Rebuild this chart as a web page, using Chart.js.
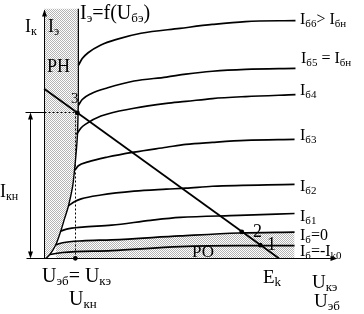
<!DOCTYPE html>
<html>
<head>
<meta charset="utf-8">
<script src="https://cdn.jsdelivr.net/npm/chart.js@4/dist/chart.umd.min.js"></script>
<style>html,body{margin:0;padding:0;background:#fff}canvas{display:block}</style>
</head>
<body>
<canvas id="c" width="364" height="314"></canvas>
<script>
// values: U in volts (Ek = 10), I in mA
const EK = 10;
const IK_AT_ZERO = 6.96;      // load line meets the I axis
const IKN = 6.0;              // saturation current
const UKN = 1.33;             // saturation voltage

// emitter curve Iэ=f(Uбэ), bottom to top
const iEmit = [[0.08,0],[0.25,0.16],[0.5,0.56],[0.71,1.12],[0.875,1.64],[1.04,2.16],
  [1.21,2.92],[1.29,3.56],[1.375,4.44],[1.42,5.04],[1.44,5.64],[1.46,6.44]];
const emitTop = 10.24;

// collector curves for each base current
const ib6 = [[1.46,7.92],[1.625,8.2],[1.875,8.44],[2.42,8.76],[3.125,9.0],[4.125,9.24],[5.79,9.44],[7.17,9.6],[8.58,9.72],[10.71,9.76]];
const ib5 = [[1.46,6.28],[1.625,6.52],[2.0,6.76],[2.71,7.0],[3.83,7.28],[5.21,7.44],[6.04,7.56],[7.17,7.68],[8.58,7.76],[10.71,7.8]];
const ib4 = [[1.375,5.08],[1.58,5.36],[1.79,5.52],[2.42,5.84],[3.83,6.16],[5.21,6.36],[6.04,6.44],[7.17,6.56],[8.58,6.64],[10.71,6.72]];
const ib3 = [[1.33,3.64],[1.46,3.8],[1.875,3.96],[2.71,4.16],[3.83,4.36],[5.21,4.56],[6.04,4.68],[7.17,4.76],[8.58,4.84],[10.67,4.88]];
const ib2 = [[1.04,2.16],[1.29,2.32],[1.58,2.44],[2.42,2.6],[3.83,2.76],[5.21,2.84],[6.04,2.88],[7.17,2.96],[10.67,3.04]];
const ib1 = [[0.71,1.12],[0.96,1.2],[1.625,1.28],[2.875,1.36],[4.54,1.56],[5.79,1.68],[8.29,1.76],[10.67,1.84]];
const ib0 = [[0.5,0.56],[0.79,0.64],[1.625,0.72],[2.875,0.76],[5.79,0.92],[8.29,1.04],[10.67,1.08]];
const ibK0 = [[0.25,0.16],[0.79,0.24],[2.875,0.32],[5.79,0.48],[8.29,0.52],[10.67,0.52]];

// working points 3, 2, 1 on the load line and Uкн on the axis
const dots = [[1.42,5.97],[8.42,1.09],[9.21,0.54],[UKN,0]];

const xy = a => a.map(p => ({x: p[0], y: p[1]}));

// stipple used for the shaded regions
const pc = document.createElement('canvas');
pc.width = 2; pc.height = 2;
const pctx = pc.getContext('2d');
pctx.fillStyle = '#fff'; pctx.fillRect(0, 0, 2, 2);
pctx.fillStyle = '#b4b4b4'; pctx.fillRect(0, 0, 1, 1); pctx.fillRect(1, 1, 1, 1);
const ctx = document.getElementById('c').getContext('2d');
const stipple = ctx.createPattern(pc, 'repeat');

const satShape = [[0, emitTop], [1.46, emitTop]].concat(iEmit.slice().reverse(), [[0, 0]]);

function curve(d) {
  return {data: xy(d), borderColor: '#000', borderWidth: 1.7, pointRadius: 0,
    cubicInterpolationMode: 'monotone', fill: false};
}

const cur0 = curve(ib0);
cur0.fill = 'origin';
cur0.backgroundColor = stipple;

const datasets = [
  {data: xy(dots), showLine: false, pointRadius: 2.4, pointBackgroundColor: '#000', pointBorderWidth: 0},
  {data: xy([[0, IK_AT_ZERO], [EK, 0]]), borderColor: '#000', borderWidth: 1.8, pointRadius: 0},
  curve(ib6), curve(ib5), curve(ib4), curve(ib3), curve(ib2), curve(ib1), cur0, curve(ibK0),
  {data: xy(iEmit), borderColor: '#000', borderWidth: 1.4, pointRadius: 0, tension: 0.3},
  {data: xy([[1.46, 6.44], [1.46, emitTop]]), borderColor: '#000', borderWidth: 1.2, pointRadius: 0},
  {data: xy(satShape), borderWidth: 0, pointRadius: 0, fill: 'shape', backgroundColor: stipple}
];

const labels = [
  {x: 25, y: 32, p: ['I', 'к']},
  {x: 48, y: 32, p: ['I', 'э']},
  {x: 80, y: 19, p: ['I', 'э', '=f(U', 'бэ', ')'], s: 20},
  {x: 47, y: 72, p: ['РН']},
  {x: 71, y: 103, p: ['3'], s: 15},
  {x: 0, y: 197, p: ['I', 'кн']},
  {x: 42, y: 282, p: ['U', 'эб', '= U', 'кэ'], s: 20},
  {x: 69, y: 305, p: ['U', 'кн'], s: 20},
  {x: 263, y: 283, p: ['E', 'k'], s: 19},
  {x: 312, y: 288, p: ['U', 'кэ'], s: 19},
  {x: 314, y: 307, p: ['U', 'эб'], s: 19},
  {x: 192, y: 257, p: ['РО'], s: 17},
  {x: 253, y: 237, p: ['2'], s: 18},
  {x: 267, y: 250, p: ['1'], s: 18},
  {x: 300, y: 24, p: ['I', 'б6', '> I', 'бн'], s: 16},
  {x: 301, y: 63, p: ['I', 'б5', ' = I', 'бн'], s: 16},
  {x: 300, y: 95, p: ['I', 'б4'], s: 16},
  {x: 300, y: 140, p: ['I', 'б3'], s: 16},
  {x: 300, y: 191, p: ['I', 'б2'], s: 16},
  {x: 300, y: 221, p: ['I', 'б1'], s: 16},
  {x: 300, y: 240, p: ['I', 'б', '=0'], s: 16},
  {x: 300, y: 256, p: ['I', 'б', '=-I', 'k0'], s: 16}
];

function rich(c, x, y, parts, size) {
  let cx = x;
  parts.forEach((t, i) => {
    const sub = i % 2 === 1;
    c.font = (sub ? Math.round(size * 0.66) : size) + 'px "Liberation Serif"';
    c.fillText(t, cx, sub ? y + 3 : y);
    cx += c.measureText(t).width;
  });
}

function arrow(c, x, y, dx, dy) {
  const L = 7, W = 2.5;
  c.beginPath();
  c.moveTo(x, y);
  c.lineTo(x - dx * L - dy * W, y - dy * L + dx * W);
  c.lineTo(x - dx * L + dy * W, y - dy * L - dx * W);
  c.closePath();
  c.fill();
}

const overlay = {
  id: 'overlay',
  afterDatasetsDraw(chart) {
    const c = chart.ctx, X = chart.scales.x, Y = chart.scales.y;
    const px = v => Math.round(X.getPixelForValue(v)) + 0.5;
    const py = v => Math.round(Y.getPixelForValue(v)) + 0.5;
    c.save();
    c.strokeStyle = '#000'; c.fillStyle = '#000'; c.lineWidth = 1;
    // axes
    c.beginPath();
    c.moveTo(px(-0.75), py(0)); c.lineTo(px(12.4), py(0));
    c.moveTo(px(0), py(0)); c.lineTo(px(0), py(10.2));
    c.stroke();
    arrow(c, px(12.46), py(0), 1, 0);
    arrow(c, px(0), py(10.25), 0, -1);
    // Iкн dimension
    c.beginPath();
    c.moveTo(px(-0.8), py(IKN)); c.lineTo(px(0), py(IKN));
    c.moveTo(px(-0.58), py(0.2)); c.lineTo(px(-0.58), py(IKN - 0.2));
    c.stroke();
    arrow(c, px(-0.58), py(0), 0, 1);
    arrow(c, px(-0.58), py(IKN), 0, -1);
    // dotted guides through point 3
    c.setLineDash([2, 2]);
    c.beginPath();
    c.moveTo(px(0), py(IKN)); c.lineTo(px(1.46), py(IKN));
    c.moveTo(px(UKN), py(IKN)); c.lineTo(px(UKN), py(0));
    c.stroke();
    c.setLineDash([]);
    // texts
    c.textBaseline = 'alphabetic';
    labels.forEach(l => rich(c, l.x, l.y, l.p, l.s || 18));
    c.restore();
  }
};

new Chart(ctx, {
  type: 'scatter',
  data: {datasets: datasets},
  options: {
    responsive: false,
    animation: false,
    devicePixelRatio: 1,
    showLine: true,
    layout: {padding: 0},
    scales: {
      x: {type: 'linear', display: false, min: -41 / 24, max: 323 / 24},
      y: {type: 'linear', display: false, min: -53 / 25, max: 261 / 25}
    },
    plugins: {
      legend: {display: false},
      tooltip: {enabled: false},
      filler: {drawTime: 'beforeDatasetsDraw'}
    }
  },
  plugins: [overlay]
});
</script>
</body>
</html>
